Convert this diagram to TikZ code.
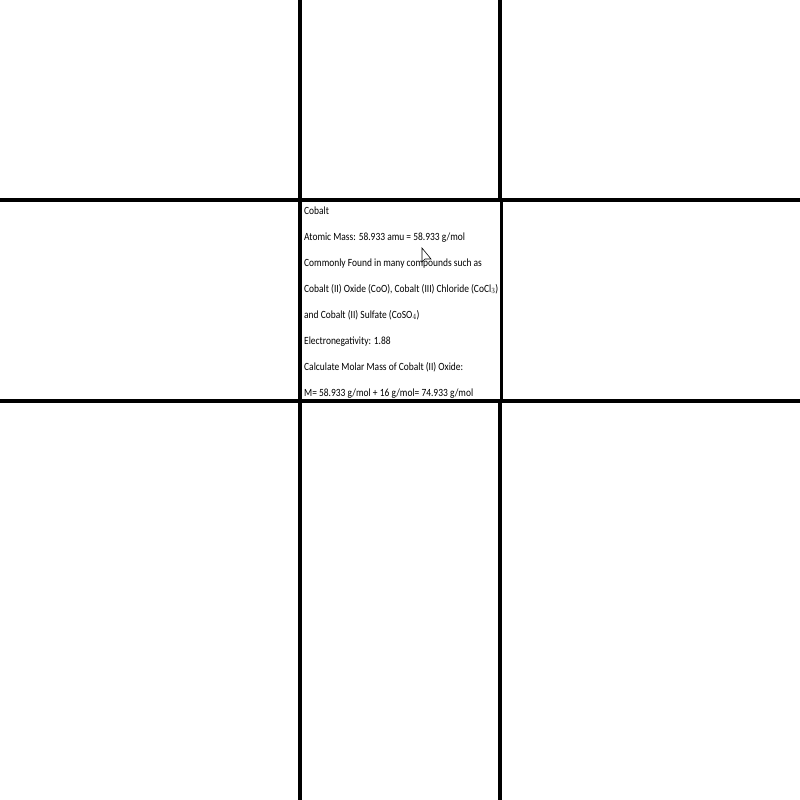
\documentclass[tikz,border=0pt]{standalone}
\usepackage{fontspec}
\setmainfont{Carlito}
\tikzset{
  gridline/.style={line width=4.5bp, black},
  cellline/.style={line width=3bp, black},
  txt/.style={anchor=base west, inner sep=0pt, font=\fontsize{11bp}{13bp}\selectfont},
  cursorshape/.style={draw=black, line width=0.6bp, fill=white}
}
\newcommand{\sq}[1]{\scalebox{0.86}[1]{#1}}
\begin{document}
\begin{tikzpicture}[x=1bp,y=-1bp]
\useasboundingbox (0,0) rectangle (800,800);
\fill[white] (0,0) rectangle (800,800);
% grid
\draw[gridline] (300,0) -- (300,800);
\draw[gridline] (500,0) -- (500,200);
\draw[gridline] (500,401) -- (500,800);
\draw[cellline] (501,200) -- (501,401);
\draw[gridline] (0,200) -- (800,200);
\draw[gridline] (0,401) -- (800,401);
% text
\node[txt] (t1) at (304,214) {\sq{Cobalt}};
\node[txt] (t2) at (304,240) {\sq{Atomic Mass: 58.933 amu = 58.933 g/mol}};
\node[txt] (t3) at (304,266) {\sq{Commonly Found in many compounds such as}};
\node[txt] (t4) at (304,292) {\sq{Cobalt (II) Oxide (CoO), Cobalt (III) Chloride (CoCl$_3$)}};
\node[txt] (t5) at (304,318) {\sq{and Cobalt (II) Sulfate (CoSO$_4$)}};
\node[txt] (t6) at (304,344) {\sq{Electronegativity: 1.88}};
\node[txt] (t7) at (304,370) {\sq{Calculate Molar Mass of Cobalt (II) Oxide:}};
\node[txt] (t8) at (304,396) {\sq{M= 58.933 g/mol + 16 g/mol= 74.933 g/mol}};
% mouse cursor
\draw[cursorshape] (422,248) -- (422,262) -- (425,259) -- (431,259) -- cycle;
\end{tikzpicture}
\end{document}
